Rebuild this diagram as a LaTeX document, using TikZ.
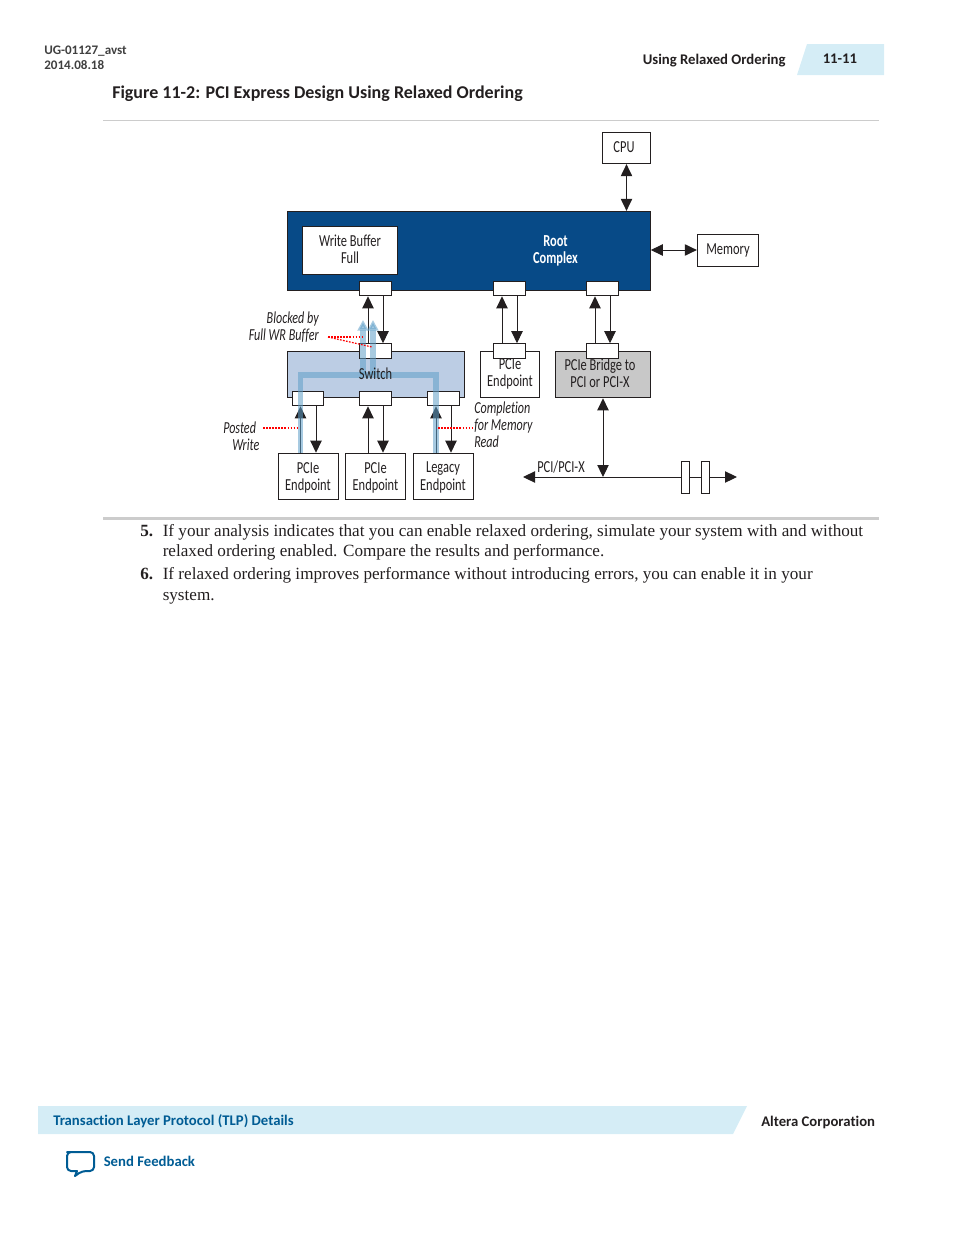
\documentclass[tikz,border=0pt]{standalone}
\usepackage{fontspec}
\setmainfont{Liberation Serif}
\newfontfamily\hdfont[Ligatures=NoCommon]{Carlito}
\newfontfamily\dgfont[FakeStretch=0.74,Ligatures=NoCommon]{Carlito}
\newfontfamily\ntfont[FakeStretch=0.72,Ligatures=NoCommon]{Carlito}
\usetikzlibrary{arrows.meta,calc}
\definecolor{rootblue}{HTML}{074A87}
\definecolor{switchblue}{HTML}{BCCDE4}
\definecolor{flowblue}{HTML}{5F9FC8}
\definecolor{band}{HTML}{D5EDF6}
\definecolor{linkblue}{HTML}{005C94}
\definecolor{bridgegray}{HTML}{C8C8C8}
\definecolor{ink}{HTML}{231F20}
\tikzset{
  dgtext/.style={font=\dgfont\fontsize{12.6}{12.9}\selectfont,text=ink},
  box/.style={draw=ink,line width=0.7pt,fill=white,minimum width=#1,inner sep=0pt,align=center,dgtext},
  portbox/.style={draw=ink,line width=0.7pt,fill=white,inner sep=0pt,minimum width=23.5pt,minimum height=11pt},
  dbl/.style={draw=ink,line width=0.75pt,{Triangle[width=8.5pt,length=9pt]}-{Triangle[width=8.5pt,length=9pt]}},
  upar/.style={draw=ink,line width=0.75pt,-{Triangle[width=8.5pt,length=9pt]}},
  flow/.style={draw=flowblue,opacity=0.55,line width=4.4pt},
  flowup/.style={draw=flowblue,opacity=0.55,line width=4.4pt,-{Triangle[width=8pt,length=8pt]}},
  reddot/.style={draw=red,line width=0.9pt,dash pattern=on 1.3pt off 1pt},
  note/.style={inner sep=0pt,font=\ntfont\itshape\fontsize{12.6}{12.9}\selectfont,text=ink},
  plain/.style={inner sep=0pt,align=center,dgtext},
  hd/.style={inner sep=0pt,anchor=base west,font=\hdfont\bfseries\fontsize{9.8}{12}\selectfont},
  hdb/.style={inner sep=0pt,anchor=base west,font=\hdfont\bfseries\fontsize{11.05}{12}\selectfont},
  para/.style={inner sep=0pt,anchor=base west,font=\fontsize{12.85}{14}\selectfont,text=ink}
}
\begin{document}
\begin{tikzpicture}[x=0.75pt,y=-0.75pt]
\useasboundingbox (0,0) rectangle (954,1235);
% page furniture
\fill[band] (807,44) -- (884,44) -- (884,75) -- (797,75) -- cycle;
\fill[band] (38,1106) -- (747,1106) -- (733,1134) -- (38,1134) -- cycle;
\draw[black!20,line width=0.6pt] (103,120.5) -- (879,120.5);
\draw[black!20,line width=2.2pt] (103,518.5) -- (879,518.5);
\node[hd,text=black!75] (h1) at (44,54) {UG-01127\_avst};
\node[hd,text=black!75] (h2) at (44,69) {2014.08.18};
\node[hdb,text=ink] (h3) at (642.5,64) {Using Relaxed Ordering};
\node[hdb,text=ink] (h4) at (822.5,63) {11-11};
\node[hd,text=ink,font=\hdfont\bfseries\fontsize{13.5}{15}\selectfont] (title) at (112,98) {Figure 11-2: PCI Express Design Using Relaxed Ordering};
% diagram boxes
\node[box=36pt,minimum height=23.5pt] (cpu) at (626.5,148) {};
\node[plain] (cput) at (624,147.5) {CPU};
\node[box=272pt,minimum height=59.5pt,fill=rootblue] (root) at (469,251) {};
\node[box=71.5pt,minimum height=36pt] (wb) at (350,250) {};
\node[plain] (wbt) at (350,249) {Write Buffer\\Full};
\node[inner sep=0pt,align=center,text=white,font=\dgfont\bfseries\fontsize{12.6}{12.9}\selectfont] (roott) at (555.5,251) {Root\\Complex};
\node[box=46pt,minimum height=24pt] (mem) at (728,250) {};
\node[plain] (memt) at (728,250.5) {Memory};
\node[box=133pt,minimum height=35pt,fill=switchblue] (sw) at (376,374.5) {};
\node[box=44.5pt,minimum height=35pt] (ep4) at (510,374.5) {};
\node[box=71pt,minimum height=35pt,fill=bridgegray] (br) at (603,374.5) {};
\node[box=45pt,minimum height=35pt] (ep1) at (308.5,476.5) {};
\node[box=45pt,minimum height=35pt] (ep2) at (375.5,476.5) {};
\node[box=45pt,minimum height=35pt] (ep3) at (443,476.5) {};
\node[plain] (ep1t) at (308,477.5) {PCIe\\Endpoint};
\node[plain] (ep2t) at (375.5,477.5) {PCIe\\Endpoint};
\node[plain] (ep3t) at (443,477.5) {Legacy\\Endpoint};
% ports
\node[portbox] (r1) at (375.5,288.5) {};
\node[portbox] (r2) at (509.5,288.5) {};
\node[portbox] (r3) at (602.5,288.5) {};
\node[portbox] (st) at (375.5,351) {};
\node[portbox] (s1) at (308,398.5) {};
\node[portbox] (s2) at (375.5,398.5) {};
\node[portbox] (s3) at (443.5,398.5) {};
\node[portbox] (e4p) at (509.5,351) {};
\node[portbox] (brp) at (602.5,351) {};
% texts over the boxes
\node[plain] (ep4t) at (510,374) {PCIe\\Endpoint};
\node[plain] (brt) at (600,373.5) {PCIe Bridge to\\PCI or PCI-X};
% connectors
\draw[dbl] (cpu.south) -- (cpu.south |- root.north);
\draw[dbl] (root.east |- mem.west) -- (mem.west);
\foreach \p/\q/\dx in {st/r1/7.5, e4p/r2/7.5, brp/r3/7.5}{
  \draw[upar] ($(\p.north)+(-\dx,0)$) -- ($(\q.south)+(-\dx,0)$);
  \draw[upar] ($(\q.south)+(\dx,0)$) -- ($(\p.north)+(\dx,0)$);
}
\foreach \e/\s/\a/\b in {ep1/s1/-7.5/8, ep2/s2/-7.5/7.5, ep3/s3/-7.5/7.5}{
  \draw[upar] ($(\e.north -| \s.south)+(\a,0)$) -- ($(\s.south)+(\a,0)$);
  \draw[upar] ($(\s.south)+(\b,0)$) -- ($(\e.north -| \s.south)+(\b,0)$);
}
% PCI bus
\coordinate (busl) at (523,477);
\coordinate (busr) at (737,477);
\node[portbox,minimum width=6pt,minimum height=24pt] (b1) at (685.5,477) {};
\node[portbox,minimum width=6pt,minimum height=24pt] (b2) at (705.5,477) {};
\draw[upar] (b1.west) -- (busl);
\draw[draw=ink,line width=0.75pt] (b1.east) -- (b2.west);
\draw[upar] (b2.east) -- (busr);
\draw[dbl] (br.south) -- (br.south |- busl);
\node[plain] (pcit) at (561,467.5) {PCI/PCI-X};
% traffic flows
\coordinate (fa) at (300.5,453);
\coordinate (fb) at (436,453);
\coordinate (fc) at (363,320);
\coordinate (fd) at (373,320);
\coordinate (fy) at (375,375);
\draw[flow] (fa) -- (fa |- fy) -- (fb |- fy) -- (fb);
\draw[flowup] (fc |- fy) -- (fc);
\draw[flowup] (fd |- fy) -- (fd);
\node[plain] (swt) at (375.5,373.5) {Switch};
% notes
\node[note,align=right,anchor=east] (n1) at (319,327) {Blocked by\\Full WR Buffer};
\node[note,align=left,anchor=west] (n2) at (223,436.5) {Posted\\\hspace*{6.75pt}Write};
\node[note,align=left,anchor=west] (n3) at (474,425) {Completion\\for Memory\\Read};
\coordinate (r0) at (328,337);
\coordinate (r1e) at (363,337);
\coordinate (r2e) at (372,347);
\draw[reddot] (r0) -- (r1e);
\draw[reddot] (r0) -- (r2e);
\coordinate (pe) at (299,428);
\coordinate (cs) at (438,428);
\draw[reddot] (263,428) -- (pe);
\draw[reddot] (cs) -- (n3.west |- cs);
% body text
\node[para,font=\fontsize{12.85}{14}\selectfont\bfseries] (li5) at (140,536) {5.};
\node[para] (l5a) at (162.5,536) {If your analysis indicates that you can enable relaxed ordering, simulate your system with and without};
\node[para] (l5b) at (162.5,556) {relaxed ordering enabled. Compare the results and performance.};
\node[para,font=\fontsize{12.85}{14}\selectfont\bfseries] (li6) at (140,579) {6.};
\node[para] (l6a) at (162.5,579) {If relaxed ordering improves performance without introducing errors, you can enable it in your};
\node[para] (l6b) at (162.5,600) {system.};
% footer
\node[hdb,text=linkblue] (f1) at (53,1125) {Transaction Layer Protocol (TLP) Details};
\node[hdb,text=ink] (f2) at (761,1126) {Altera Corporation};
\node[hdb,text=linkblue] (f3) at (103.5,1166) {Send Feedback};
\draw[linkblue,line width=1.5pt,line join=round,rounded corners=3pt]
  (71,1152) -- (94,1152) -- (94,1171) -- (82,1171) [sharp corners] -- (75,1176) -- (77,1171) [rounded corners=3pt] -- (67,1171) -- (67,1152) -- cycle;
\end{tikzpicture}
\end{document}
